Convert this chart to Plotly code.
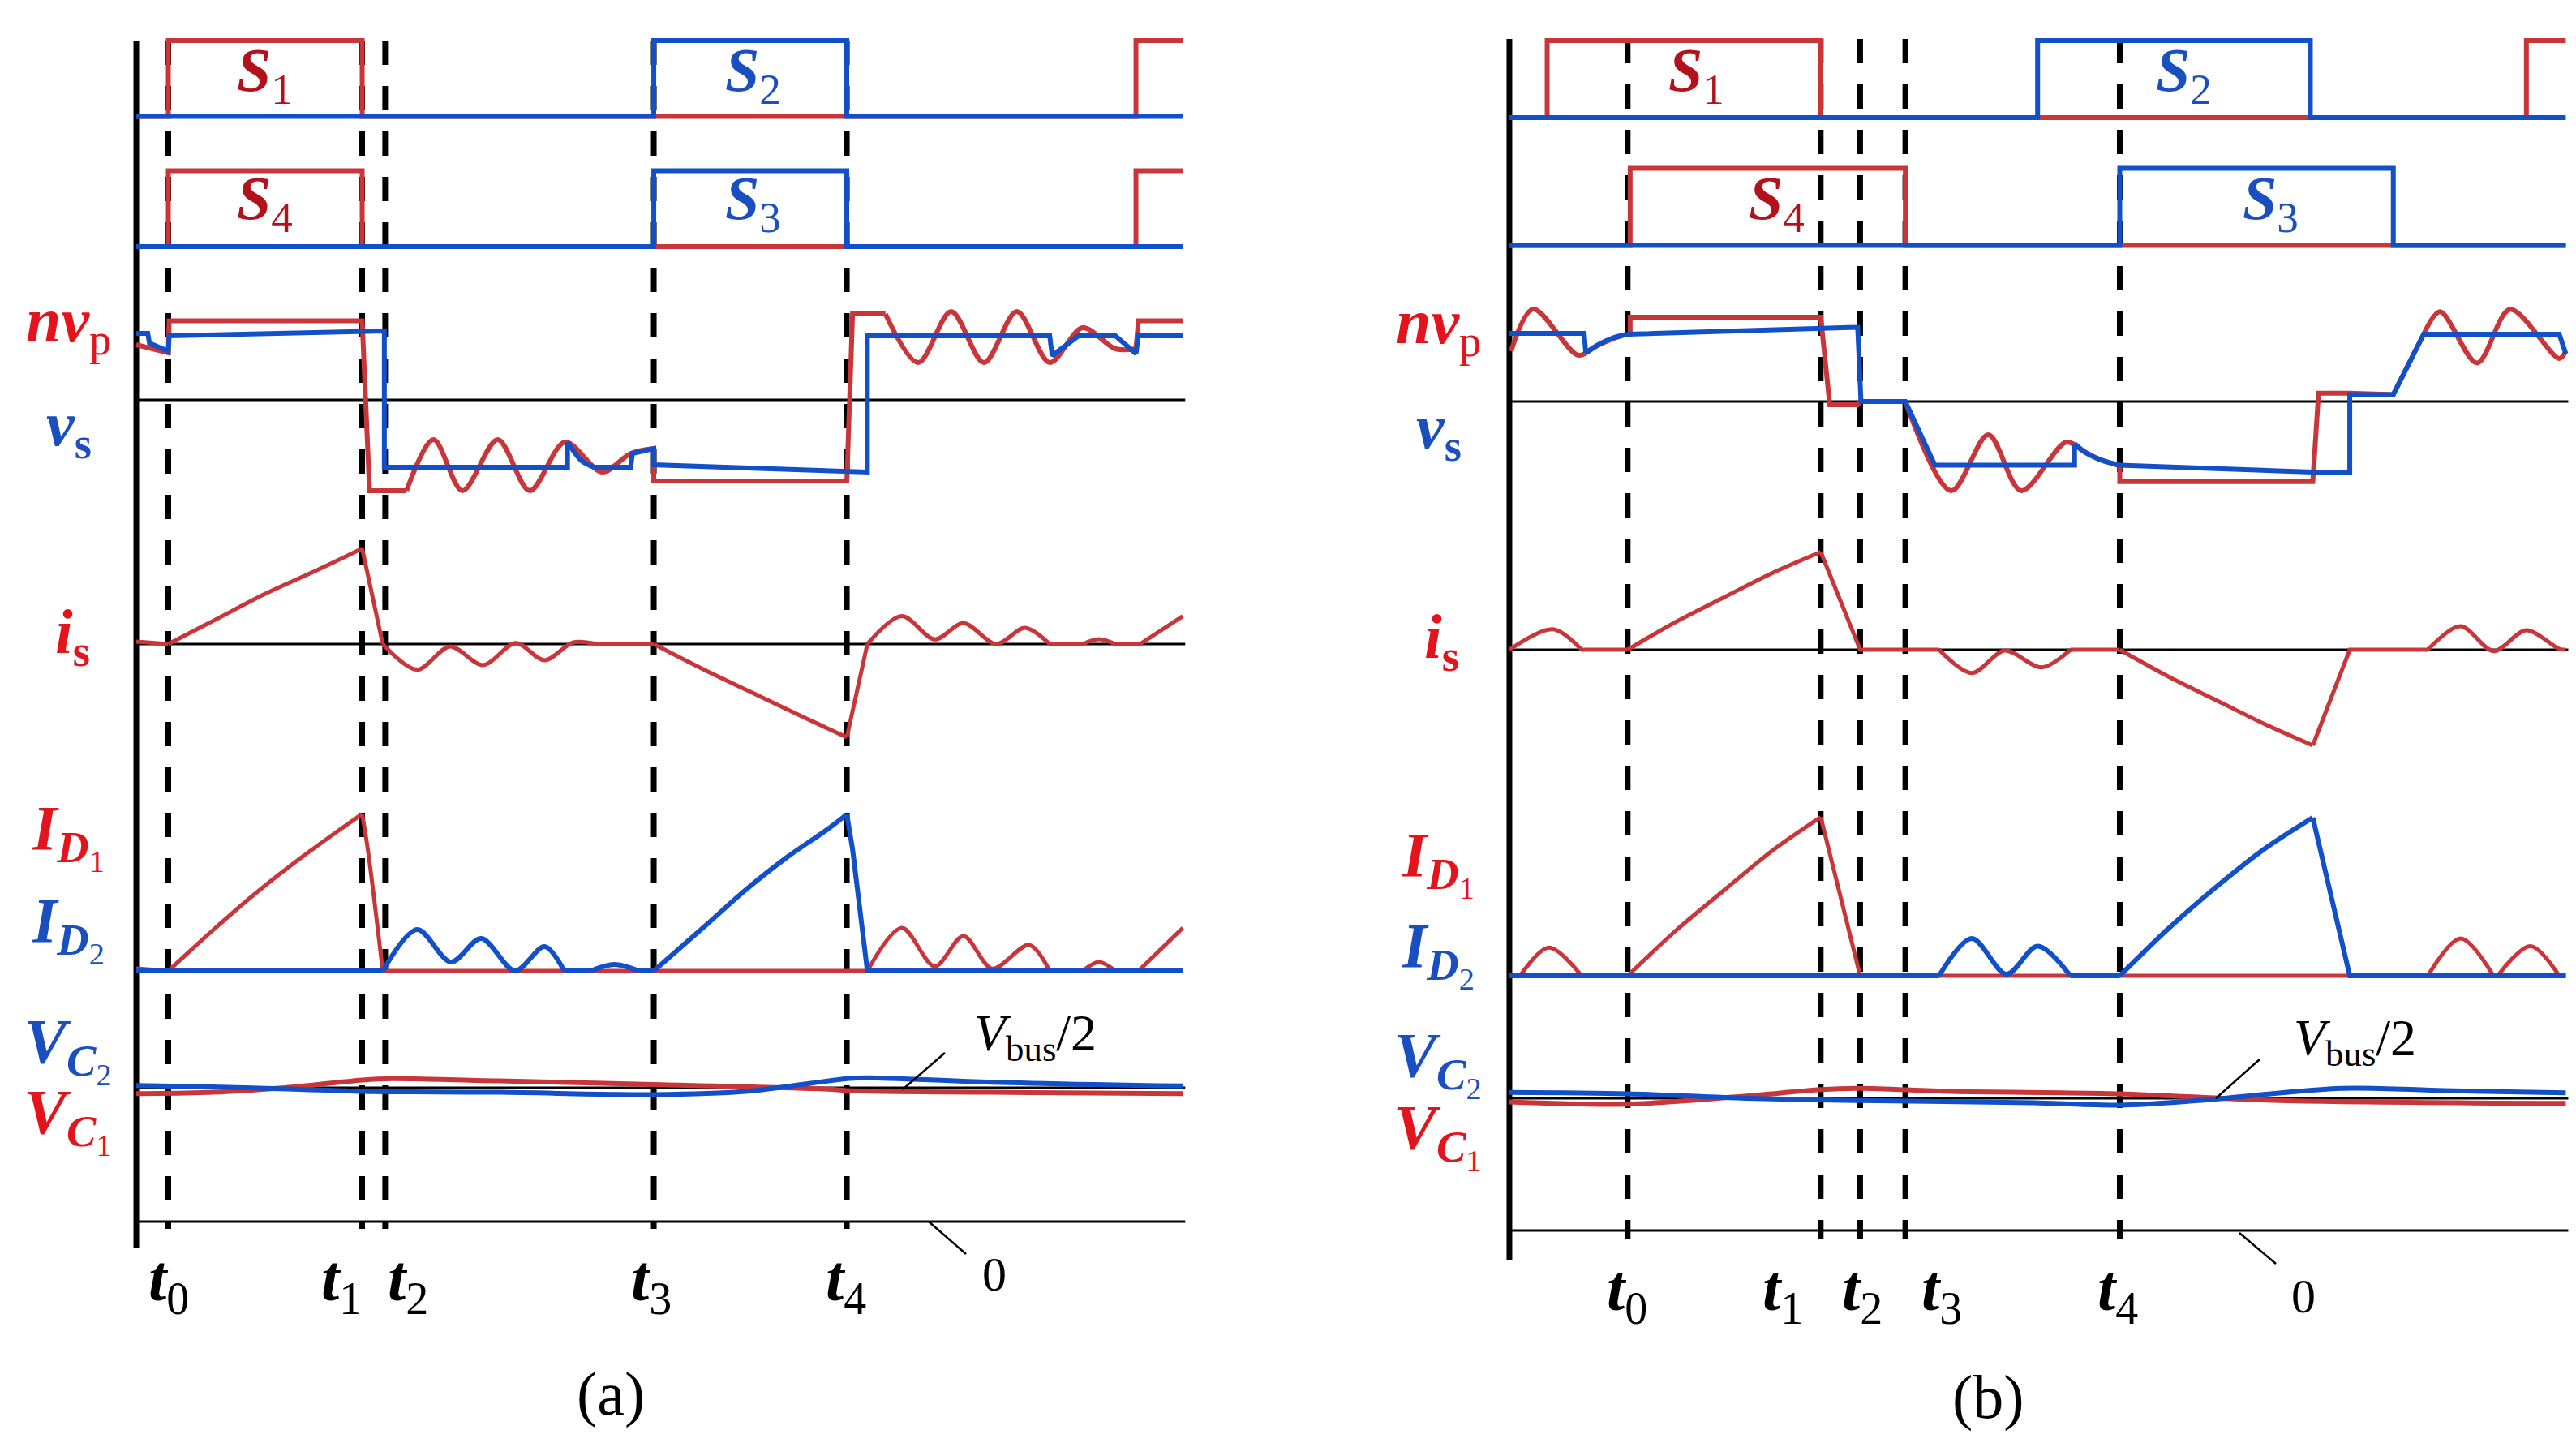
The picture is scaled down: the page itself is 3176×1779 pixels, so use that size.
import plotly.graph_objects as go

W, H = 3176, 1779
RED = "#C9363A"
BLUE = "#1150C8"
RED_TXT = "#E3141B"
BLUE_TXT = "#1A4FBF"
DRED_TXT = "#B3111C"
FONT = "Liberation Serif"

# ---------------- panel (a) data (time units, levels in px-units) ----------------
A_T_EVENTS = [39, 275, 303, 630, 865]
A_T_END = 1274
A_GATE_LOW = [1643.5, 1483]
A_GATE_AMP = 93.5
A_NV_ZERO, A_IS_ZERO, A_ID_ZERO, A_VC_MID, A_ZERO = 1294, 993, 590, 446, 281
A_AXIS = [248, 1737]
A_DASH = [1737, 272]

A_S1_T = [0, 39, 39, 275, 275, 1217, 1217, 1274]
A_S1_Y = [0, 0, 1, 1, 0, 0, 1, 1]
A_S2_T = [0, 630, 630, 865, 865, 1274]
A_S2_Y = [0, 0, 1, 1, 0, 0]
A_S4_T = [0, 39, 39, 275, 275, 1217, 1217, 1274]
A_S4_Y = [0, 0, 1, 1, 0, 0, 1, 1]
A_S3_T = [0, 630, 630, 865, 865, 1274]
A_S3_Y = [0, 0, 1, 1, 0, 0]

A_NVP_LIN_T = [0, 39, 40, 275, 284, 329, None, 630, 630, 865, 872, 912, None, 1217, 1220, 1274]
A_NVP_LIN_Y = [68, 58, 97.6, 97.6, -112, -112, None, -60, -100, -100, 106, 106, None, 63, 97.6, 97.6]
A_NVP_SPL_T = [329, 362, 397, 440, 479, 522, 567, 602, 630, None,
               912, 952, 992, 1032, 1072, 1112, 1152, 1192, 1217]
A_NVP_SPL_Y = [-112, -49, -112, -49, -112, -52, -89, -66, -60, None,
               106, 46, 109, 46, 109, 46, 89, 63, 63]

A_VS_LIN_T = [0, 14, 16, 39, 40, 275, 302, 302, 525, 525, None,
              557, 602, 604, 630, 630, 865, 890, 890, 1112, 1115, 1147, 1192, 1217, 1220, 1274]
A_VS_LIN_Y = [82, 82, 70, 60, 79, 85, 85, -83, -83, -52, None,
              -83, -83, -66, -60, -80, -89, -89, 79, 79, 54.5, 79, 79, 57, 79, 79]
A_VS_SPL_T = [525, 542, 557]
A_VS_SPL_Y = [-52, -75, -83]

A_IS_LIN_T = [0, 39, None, 275, 300, None, 560, 630, None, 865, 890, None, 1112, 1152, None, 1192, 1222, 1274]
A_IS_LIN_Y = [3, 0, None, 117.7, 0, None, 0, 0, None, -115, 0, None, 0, 0, None, 0, 0, 34.4]
A_IS_SPL_T = [39, 102, 157, 222, 275, None,
              300, 342, 382, 422, 462, 497, 532, 560, None,
              630, 692, 752, 812, 865, None,
              890, 932, 972, 1007, 1047, 1082, 1112, None,
              1152, 1172, 1192]
A_IS_SPL_Y = [0, 33, 62, 92, 117.7, None,
              0, -31.6, -2.9, -26, 1.2, -20, 2, 0, None,
              0, -32, -61, -90, -115, None,
              0, 34.4, 5.7, 25.8, 0, 20, 0, None,
              0, 6, 0]

A_ID1_LIN_T = [0, 39, None, 300, 890, None, 1112, 1152, None, 1192, 1220, 1274]
A_ID1_LIN_Y = [3, 0, None, 0, 0, None, 0, 0, None, 0, 0, 53]
A_ID1_SPL_T = [39, 92, 142, 192, 242, 275, None, 275, 282, 300, None,
               890, 932, 972, 1007, 1042, 1087, 1112, None, 1152, 1172, 1192]
A_ID1_SPL_Y = [0, 49, 93, 133, 170, 193.4, None, 193.4, 149, 0, None,
               0, 53, 5.6, 43, 2.8, 32, 0, None, 0, 11, 0]

A_ID2_LIN_T = [0, 300, None, 521, 553, None, 612, 630, None, 865, 872, 890, 1274]
A_ID2_LIN_Y = [0, 0, None, 0, 0, None, 0, 0, None, 193, 150, 0, 0]
A_ID2_SPL_T = [300, 342, 383, 420, 461, 497, 521, None, 553, 582, 612, None,
               630, 692, 742, 792, 842, 865]
A_ID2_SPL_Y = [0, 51, 11, 40, 0, 30, 0, None, 0, 8, 0, None,
               0, 55, 100, 140, 175, 193]

A_VC1_T = [0, 92, 192, 275, 312, 442, 630, 842, 865, 1042, 1274]
A_VC1_Y = [-7.3, -5.6, 1.1, 9.5, 11.2, 8.4, 3.9, -1.7, -3.4, -5.6, -7.3]
A_VC2_T = [0, 92, 192, 275, 442, 630, 742, 865, 890, 1042, 1274]
A_VC2_Y = [2.8, 1.1, -1.7, -4.5, -5.6, -8.4, -4.5, 11.2, 12.3, 6.7, 2.2]

# ---------------- panel (b) data ----------------
B_T_EVENTS = [144, 379, 427, 482, 743]
B_T_END = 1286
B_GATE_LOW = [1642, 1484.5]
B_GATE_AMP = 95
B_NV_ZERO, B_IS_ZERO, B_ID_ZERO, B_VC_MID, B_ZERO = 1292, 986, 584, 433, 270
B_AXIS = [234, 1739]
B_DASH = [1739, 260]

B_S1_T = [0, 46, 46, 379, 379, 1238, 1238, 1286]
B_S1_Y = [0, 0, 1, 1, 0, 0, 1, 1]
B_S2_T = [0, 643, 643, 975, 975, 1286]
B_S2_Y = [0, 0, 1, 1, 0, 0]
B_S4_T = [0, 147, 147, 482, 482, 1286]
B_S4_Y = [0, 0, 1, 1, 0, 0]
B_S3_T = [0, 743, 743, 1076, 1076, 1286]
B_S3_Y = [0, 0, 1, 1, 0, 0]

B_NVP_LIN_T = [143, 147, 147, 379, 390, 424, 427, 482, None,
               743, 743, 978, 985, 1023, 1076, 1113]
B_NVP_LIN_Y = [83, 83, 104, 104, -4, -4, 0, 0, None,
               -79, -98.7, -98.7, 10.3, 10.3, 8.6, 83]
B_NVP_SPL_T = [2, 29, 84, 105, 125, 143, None,
               482, 538, 583, 623, 678, 700, 720, 743, None,
               1113, 1133, 1178, 1218, 1278, 1286]
B_NVP_SPL_Y = [62, 114, 57, 68, 77, 83, None,
               0, -110, -41, -110, -50, -62, -72, -79, None,
               83, 110.8, 47.6, 113.6, 53, 62]

B_VS_LIN_T = [0, 91, 93, None, 143, 376, 424, 428, 482, 518, 688, 688, None,
              743, 978, 1023, 1023, 1076, 1113, 1278, 1286]
B_VS_LIN_Y = [84, 84, 60, None, 83, 90.4, 91.5, 0, 0, -78.6, -78.6, -52, None,
              -78.6, -87, -87, 8.6, 8.6, 83, 83, 59]
B_VS_SPL_T = [93, 110, 125, 143, None, 688, 700, 720, 743]
B_VS_SPL_Y = [60, 71, 78, 83, None, -52, -62, -72, -78.6]

B_IS_LIN_T = [88, 144, None, 379, 427, 523, None, 683, 743, None, 978, 1023, 1118]
B_IS_LIN_Y = [0, 0, None, 120.5, 0, 0, None, 0, 0, None, -118, 0, 0]
B_IS_SPL_T = [0, 53, 88, None, 144, 203, 262, 321, 379, None,
              523, 563, 603, 648, 683, None, 743, 802, 861, 920, 978, None,
              1118, 1158, 1198, 1238, 1278, 1286]
B_IS_SPL_Y = [0, 25.3, 0, None, 0, 34.5, 65, 95, 120.5, None,
              0, -28.7, -1.1, -21.8, 0, None, 0, -33, -62.5, -92, -118, None,
              0, 29, -1.7, 24, 1, 0]

B_ID1_LIN_T = [0, 13, None, 88, 144, None, 379, 427, 1118, None, 1198, 1203, None, 1278, 1286]
B_ID1_LIN_Y = [0, 0, None, 0, 0, None, 195.6, 0, 0, None, 0, 0, None, 0, 0]
B_ID1_SPL_T = [13, 48, 88, None, 144, 203, 262, 321, 379, None,
               1118, 1158, 1198, None, 1203, 1243, 1278]
B_ID1_SPL_Y = [0, 34.8, 0, None, 0, 56, 106, 155, 195.6, None,
               0, 46, 0, None, 0, 36.4, 0]

B_ID2_LIN_T = [0, 523, None, 683, 743, None, 978, 1023, 1286]
B_ID2_LIN_Y = [0, 0, None, 0, 0, None, 195, 0, 0]
B_ID2_SPL_T = [523, 563, 605, 643, 683, None, 743, 802, 861, 920, 978]
B_ID2_SPL_Y = [0, 46, 2, 36.4, 0, None, 0, 58, 110, 157, 195]

B_VC1_T = [0, 144, 288, 379, 427, 538, 743, 938, 1286]
B_VC1_Y = [-4.5, -7.3, 2.8, 10.7, 12.3, 8.4, 5.6, -2.8, -6.2]
B_VC2_T = [0, 144, 288, 427, 638, 743, 838, 1013, 1138, 1286]
B_VC2_Y = [7.3, 5.6, 0, -2.8, -5.6, -8.4, -2.8, 12.3, 9.5, 6.7]

# ---------------- figure ----------------
fig = go.Figure()


def shift(vals, base, scale=1.0):
    return [None if v is None else base + scale * v for v in vals]


def line(ax, t, y, color, width, shape="linear", dash=None):
    xa, ya = ("x", "y") if ax == "a" else ("x2", "y2")
    ln = dict(color=color, width=width, shape=shape)
    if dash:
        ln["dash"] = dash
    if shape == "spline":
        ln["smoothing"] = 0.9
    fig.add_trace(go.Scatter(
        x=t, y=y, mode="lines", xaxis=xa, yaxis=ya, hoverinfo="skip",
        showlegend=False, connectgaps=False, line=ln))


def panel(ax, P):
    tend = P["T_END"]
    # thin reference lines
    for lvl in [P["NV_ZERO"], P["IS_ZERO"], P["VC_MID"], P["ZERO"]]:
        line(ax, [0, tend + 3], [lvl, lvl], "black", 3)
    # dashed event lines
    for te in P["T_EVENTS"]:
        line(ax, [te, te], P["DASH"], "black", 7, dash="30px,26px")
    # vertical axis
    line(ax, [0, 0], P["AXIS"], "black", 7)
    g1, g2 = P["GATE_LOW"]
    amp = P["GATE_AMP"]
    lw = 6
    # gate signals (red under blue)
    line(ax, P["S1_T"], shift(P["S1_Y"], g1, amp), RED, lw)
    line(ax, P["S4_T"], shift(P["S4_Y"], g2, amp), RED, lw)
    line(ax, P["S2_T"], shift(P["S2_Y"], g1, amp), BLUE, lw)
    line(ax, P["S3_T"], shift(P["S3_Y"], g2, amp), BLUE, lw)
    # nv_p / v_s
    nz = P["NV_ZERO"]
    line(ax, P["NVP_LIN_T"], shift(P["NVP_LIN_Y"], nz), RED, lw)
    line(ax, P["NVP_SPL_T"], shift(P["NVP_SPL_Y"], nz), RED, lw, "spline")
    line(ax, P["VS_LIN_T"], shift(P["VS_LIN_Y"], nz), BLUE, lw)
    line(ax, P["VS_SPL_T"], shift(P["VS_SPL_Y"], nz), BLUE, lw, "spline")
    # i_s
    iz = P["IS_ZERO"]
    line(ax, P["IS_LIN_T"], shift(P["IS_LIN_Y"], iz), RED, 5)
    line(ax, P["IS_SPL_T"], shift(P["IS_SPL_Y"], iz), RED, 5, "spline")
    # diode currents
    dz = P["ID_ZERO"]
    line(ax, P["ID1_LIN_T"], shift(P["ID1_LIN_Y"], dz), RED, 5)
    line(ax, P["ID1_SPL_T"], shift(P["ID1_SPL_Y"], dz), RED, 5, "spline")
    line(ax, P["ID2_LIN_T"], shift(P["ID2_LIN_Y"], dz), BLUE, lw)
    line(ax, P["ID2_SPL_T"], shift(P["ID2_SPL_Y"], dz), BLUE, lw, "spline")
    # capacitor voltages
    vz = P["VC_MID"]
    line(ax, P["VC1_T"], shift(P["VC1_Y"], vz), RED, lw, "spline")
    line(ax, P["VC2_T"], shift(P["VC2_Y"], vz), BLUE, lw, "spline")


def collect(prefix):
    g = globals()
    return {k[len(prefix):]: v for k, v in g.items() if k.startswith(prefix)}


panel("a", collect("A_"))
panel("b", collect("B_"))

# axes: time units map to ~1.0128 px per unit
fig.update_layout(
    width=W, height=H, margin=dict(l=0, r=0, t=0, b=0, pad=0),
    paper_bgcolor="white", plot_bgcolor="white", showlegend=False,
    xaxis=dict(domain=[0, 0.5], range=[-158, 1410], visible=False),
    yaxis=dict(domain=[0, 1], range=[0, H], visible=False),
    xaxis2=dict(domain=[0.5, 1], range=[-261.6, 1306.3], visible=False),
    yaxis2=dict(domain=[0, 1], range=[0, H], visible=False, anchor="x2"),
)

# ---------------- text ----------------
SIG_LABELS = ["<b><i>nv</i></b><sub>p</sub>", "<b><i>v</i></b><sub><b>s</b></sub>",
              "<b><i>i</i></b><sub><b>s</b></sub>",
              "<b><i>I</i></b><sub><b><i>D</i></b><sub>1</sub></sub>",
              "<b><i>I</i></b><sub><b><i>D</i></b><sub>2</sub></sub>",
              "<b><i>V</i></b><sub><b><i>C</i></b><sub>2</sub></sub>",
              "<b><i>V</i></b><sub><b><i>C</i></b><sub>1</sub></sub>"]
SIG_COLORS = [RED_TXT, BLUE_TXT, RED_TXT, RED_TXT, BLUE_TXT, BLUE_TXT, RED_TXT]
A_SIG_POS = [(76, 392), (77, 520), (81, 776), (76, 1022), (76, 1136), (76, 1285), (76, 1372)]
B_SIG_POS = [(1765, 394), (1766, 523), (1770, 782), (1765, 1055), (1765, 1167), (1765, 1302), (1765, 1391)]

GATE_LABELS = ["<b><i>S</i></b><sub>1</sub>", "<b><i>S</i></b><sub>4</sub>",
               "<b><i>S</i></b><sub>2</sub>", "<b><i>S</i></b><sub>3</sub>"]
GATE_COLORS = [DRED_TXT, DRED_TXT, BLUE_TXT, BLUE_TXT]
A_GATE_POS = [(318, 84), (318, 242), (920, 84), (920, 242)]
B_GATE_POS = [(2083, 84), (2182, 242), (2684, 84), (2791, 242)]

T_LABELS = ["<b><i>t</i></b><sub>%d</sub>" % i for i in range(5)]
A_TLAB_X = [200, 413, 495, 795, 1035]
B_TLAB_X = [1998, 2190, 2288, 2386, 2603]
A_TLAB_Y, B_TLAB_Y = 1574, 1586


def ann(xp, yp, text, color, size, xanchor="center"):
    fig.add_annotation(x=xp / W, y=1 - yp / H, xref="paper", yref="paper",
                       text=text, showarrow=False, xanchor=xanchor, yanchor="middle",
                       font=dict(family=FONT, size=size, color=color))


for pos in (A_SIG_POS, B_SIG_POS):
    for (xp, yp), txt, col in zip(pos, SIG_LABELS, SIG_COLORS):
        ann(xp, yp, txt, col, 78)
for pos in (A_GATE_POS, B_GATE_POS):
    for (xp, yp), txt, col in zip(pos, GATE_LABELS, GATE_COLORS):
        ann(xp, yp, txt, col, 76)
for xs, yp in ((A_TLAB_X, A_TLAB_Y), (B_TLAB_X, B_TLAB_Y)):
    for xp, txt in zip(xs, T_LABELS):
        ann(xp, yp, txt, "black", 80)

ann(1268, 1270, "<i>V</i><sub>bus</sub>/2", "black", 64)
ann(2895, 1276, "<i>V</i><sub>bus</sub>/2", "black", 64)
ann(1218, 1563, "0", "black", 60)
ann(2832, 1590, "0", "black", 60)
ann(745, 1710, "(a)", "black", 76)
ann(2443, 1714, "(b)", "black", 76)

LEADERS = [((1157, 1290), (1105, 1335)), ((1137, 1498), (1183, 1538)),
           ((2778, 1298), (2724, 1346)), ((2753, 1512), (2798, 1550))]
for (x0, y0), (x1, y1) in LEADERS:
    fig.add_shape(type="line", xref="paper", yref="paper",
                  x0=x0 / W, y0=1 - y0 / H, x1=x1 / W, y1=1 - y1 / H,
                  line=dict(color="black", width=2.5))

fig.write_html("out.html")
